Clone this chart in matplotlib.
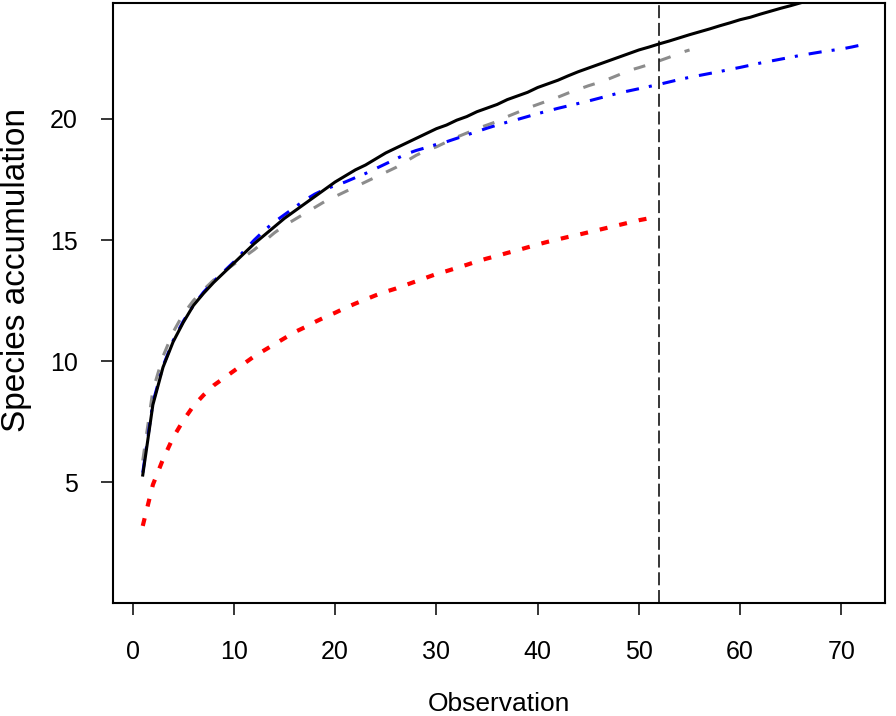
import numpy as np
import matplotlib.pyplot as plt

# species accumulation curves
obs_solid = list(range(1, 73))
acc_solid = [5.3, 8.2, 9.75, 10.8, 11.6, 12.3, 12.8, 13.25, 13.65, 14.05,
             14.45, 14.85, 15.2, 15.55, 15.9, 16.2, 16.5, 16.8, 17.1, 17.4,
             17.65, 17.9, 18.1, 18.35, 18.6, 18.8, 19.0, 19.2, 19.4, 19.6,
             19.75, 19.95, 20.1, 20.3, 20.45, 20.6, 20.8, 20.95, 21.1, 21.3,
             21.45, 21.6, 21.78, 21.95, 22.1, 22.25, 22.4, 22.55, 22.7, 22.85,
             22.97, 23.1, 23.22, 23.35, 23.48, 23.6, 23.72, 23.85, 23.97, 24.1,
             24.2, 24.33, 24.45, 24.57, 24.68, 24.8, 24.92, 25.03, 25.15, 25.26,
             25.37, 25.48]

obs_grey = list(range(1, 56))
acc_grey = [5.9, 8.8, 10.2, 11.2, 11.95, 12.5, 12.95, 13.35, 13.7, 14.0,
            14.3, 14.6, 14.95, 15.3, 15.6, 15.85, 16.1, 16.35, 16.6, 16.8,
            17.0, 17.2, 17.4, 17.6, 17.8, 18.0, 18.25, 18.5, 18.7, 18.85,
            19.05, 19.25, 19.42, 19.6, 19.75, 19.9, 20.1, 20.27, 20.45, 20.6,
            20.75, 20.9, 21.07, 21.22, 21.37, 21.5, 21.65, 21.82, 22.0, 22.12,
            22.25, 22.4, 22.55, 22.72, 22.85]

obs_blue = list(range(1, 73))
acc_blue = [5.4, 8.3, 9.8, 10.85, 11.65, 12.3, 12.85, 13.3, 13.7, 14.1,
            14.55, 15.0, 15.4, 15.75, 16.05, 16.35, 16.65, 16.9, 17.1, 17.25,
            17.4, 17.58, 17.75, 17.95, 18.15, 18.35, 18.55, 18.7, 18.82, 18.95,
            19.06, 19.2, 19.34, 19.48, 19.62, 19.75, 19.87, 19.98, 20.1, 20.22,
            20.33, 20.44, 20.54, 20.64, 20.74, 20.85, 20.96, 21.07, 21.16, 21.25,
            21.34, 21.43, 21.53, 21.63, 21.72, 21.8, 21.88, 21.96, 22.05, 22.13,
            22.22, 22.31, 22.39, 22.47, 22.55, 22.63, 22.7, 22.77, 22.83, 22.89,
            22.97, 23.06]

obs_red = list(range(1, 52))
acc_red = [3.2, 4.9, 5.95, 6.85, 7.55, 8.15, 8.6, 9.0, 9.3, 9.6,
           9.9, 10.2, 10.45, 10.7, 10.95, 11.2, 11.4, 11.62, 11.82, 12.0,
           12.2, 12.38, 12.55, 12.72, 12.87, 13.0, 13.15, 13.3, 13.45, 13.6,
           13.72, 13.85, 13.98, 14.12, 14.24, 14.35, 14.47, 14.58, 14.7, 14.82,
           14.93, 15.03, 15.13, 15.22, 15.32, 15.42, 15.52, 15.62, 15.72, 15.82,
           15.9]

cutoff = 52
x_ticks = [0, 10, 20, 30, 40, 50, 60, 70]
y_ticks = [5, 10, 15, 20]

plt.rcParams['font.family'] = ['Liberation Sans', 'DejaVu Sans']

fig = plt.figure(figsize=(8.96, 7.16), dpi=100)
ax = fig.add_axes([0.1261, 0.1578, 0.8616, 0.8384])

ax.plot(obs_red, acc_red, color='#ff0000', lw=3, linestyle=(0, (1.9, 2.9)))
ax.plot(obs_grey, acc_grey, color='#8c8c8c', lw=2.2, linestyle=(0, (3.9, 4.9)))
ax.plot(obs_blue, acc_blue, color='#0000ff', lw=2.2,
        linestyle=(0, (4.3, 3.3, 1.0, 3.6)))
ax.plot(obs_solid, acc_solid, color='black', lw=2.2)
ax.axvline(cutoff, color='black', lw=1.1, linestyle=(0, (8.5, 3.1)))

ax.set_xlim(-1.94, 74.3)
ax.set_ylim(0.017, 24.8)
ax.set_xticks(x_ticks)
ax.set_yticks(y_ticks)
ax.tick_params(axis='both', direction='out', length=8.6, width=1.1,
               labelsize=18)
ax.tick_params(axis='x', pad=18)
ax.tick_params(axis='y', pad=16.5)
for s in ax.spines.values():
    s.set_linewidth(1.5)

fig.text(0.5566, 0.0075, 'Observation', fontsize=19, ha='center', va='baseline')
fig.text(0.018, (716 - 270) / 716, 'Species accumulation', fontsize=24,
         rotation=90, ha='center', va='center')

fig.savefig('out.png', dpi=100)
